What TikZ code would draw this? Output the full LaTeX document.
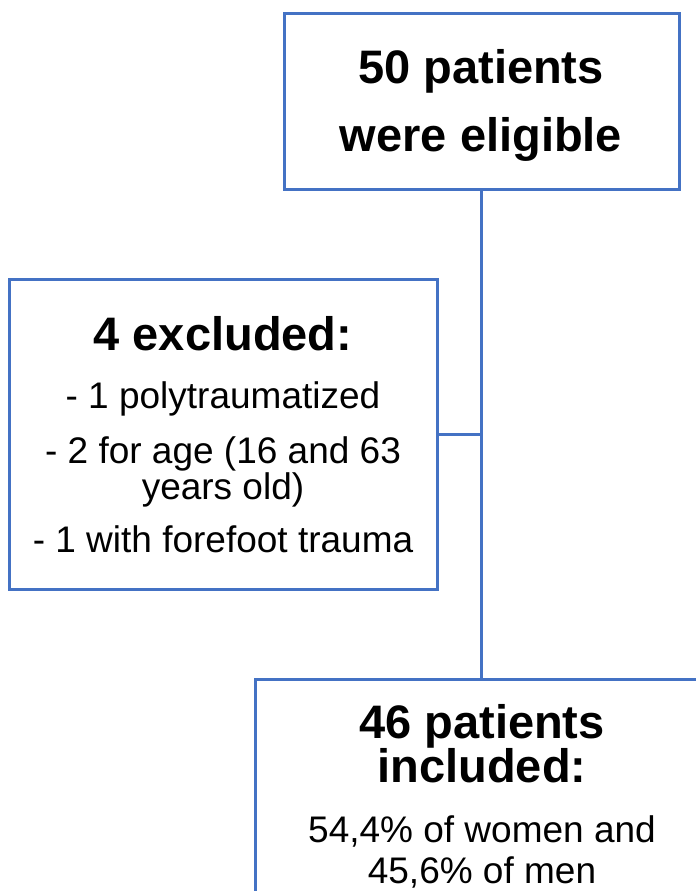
\documentclass[tikz,border=0pt]{standalone}
\usepackage{fontspec}
\setmainfont{Liberation Sans}
\definecolor{flowblue}{RGB}{68,114,196}

\begin{document}
\begin{tikzpicture}[x=0.5pt, y=-0.5pt,
  box/.style={draw=flowblue, line width=1.5pt, inner sep=0pt},
  link/.style={draw=flowblue, line width=1.5pt},
  head/.style={anchor=base, font=\fontsize{23.5}{28}\selectfont\bfseries},
  body/.style={anchor=base, font=\fontsize{18.5}{22}\selectfont}]
\useasboundingbox (0,0) rectangle (696,891);
\clip (0,0) rectangle (696,891);
% boxes
\node [box, minimum width=197.5pt, minimum height=88pt] (eligible) at (481.5,101) {};
\node [box, minimum width=214pt, minimum height=155pt] (excluded) at (223,434) {};
\node [box, minimum width=226pt, minimum height=125.5pt] (included) at (481,804.5) {};
\draw [link] (eligible.south) -- (eligible.south |- included.north);
\draw [link] (excluded.east) -- (excluded.east -| eligible.south);
% texts
\node [head] (eligibleA) at (481,83) {50 patients};
\node [head] (eligibleB) at (481,151) {were eligible};
\node [head] (excludedA) at (223,350) {4 excluded:};
\node [body] (excludedB) at (223,408) {- 1 polytraumatized};
\node [body] (excludedC) at (223,463) {- 2 for age (16 and 63};
\node [body] (excludedD) at (223,499) {years old)};
\node [body] (excludedE) at (223,552) {- 1 with forefoot trauma};
\node [head] (includedA) at (482,738) {46 patients};
\node [head] (includedB) at (482,782) {included:};
\node [body] (includedC) at (482,842) {54,4\% of women and};
\node [body] (includedD) at (482,883) {45,6\% of men};
\end{tikzpicture}
\end{document}
